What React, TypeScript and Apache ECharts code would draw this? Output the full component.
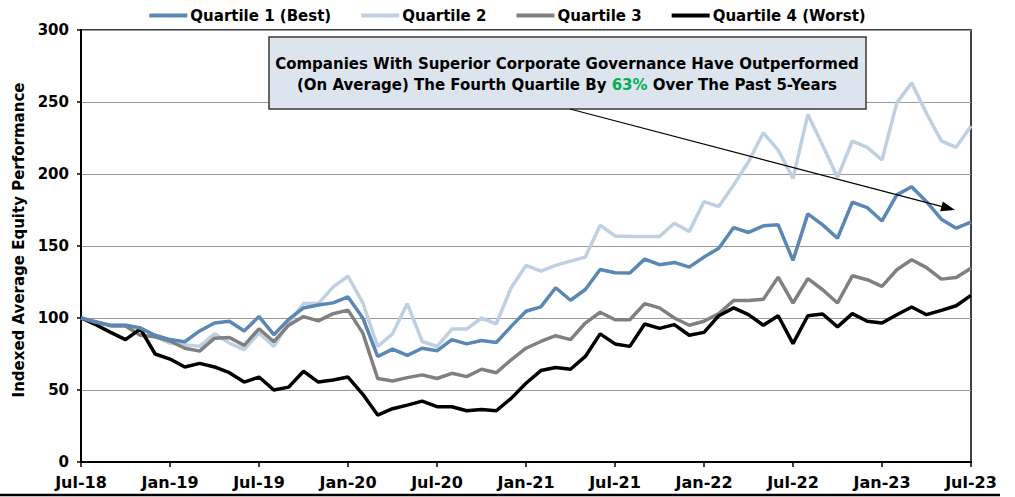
import React, { useEffect, useRef } from "react";
import * as echarts from "echarts";

const months = [
  "Jul-18","Aug-18","Sep-18","Oct-18","Nov-18","Dec-18",
  "Jan-19","Feb-19","Mar-19","Apr-19","May-19","Jun-19",
  "Jul-19","Aug-19","Sep-19","Oct-19","Nov-19","Dec-19",
  "Jan-20","Feb-20","Mar-20","Apr-20","May-20","Jun-20",
  "Jul-20","Aug-20","Sep-20","Oct-20","Nov-20","Dec-20",
  "Jan-21","Feb-21","Mar-21","Apr-21","May-21","Jun-21",
  "Jul-21","Aug-21","Sep-21","Oct-21","Nov-21","Dec-21",
  "Jan-22","Feb-22","Mar-22","Apr-22","May-22","Jun-22",
  "Jul-22","Aug-22","Sep-22","Oct-22","Nov-22","Dec-22",
  "Jan-23","Feb-23","Mar-23","Apr-23","May-23","Jun-23",
  "Jul-23",
];

const quartile1 = [
  100, 97, 95, 95, 93, 88, 85, 83.5, 91, 96.5, 97.7, 91,
  101, 88.4, 99, 107, 109, 110.5, 114.6, 100, 73.3, 78.4, 74, 79,
  77.2, 85, 82, 84.4, 83, 94.2, 104.7, 107.7, 121, 112.3, 119.8, 133.7,
  131.4, 131.2, 140.9, 137, 138.6, 135.3, 142.3, 148.5, 162.8, 159.4, 164, 164.7,
  140, 172.3, 164.7, 155.4, 180.4, 176.7, 167.4, 185.5, 191.2, 180.8, 168.6, 162.4,
  166.5,
];

const quartile2 = [
  100, 97, 95, 95, 93, 87, 82.6, 81.5, 80.3, 89, 82.6, 78,
  89.6, 80.3, 96.5, 110, 110, 121.6, 129, 110.5, 80.2, 89, 110, 83.7,
  80.2, 92.3, 92.3, 100, 96, 121, 136.5, 132.6, 136.5, 139.5, 142.3, 164.4,
  157, 156.6, 156.6, 156.6, 165.8, 160, 180.8, 177.4, 192.4, 208.5, 228.6, 216.6,
  197, 241.3, 220, 197.7, 222.9, 218.5, 209.7, 249.4, 263.3, 242, 223, 218.5,
  233.3,
];

const quartile3 = [
  100, 97.5, 94.5, 94.5, 88, 87, 84, 79, 77, 86, 86.5, 81,
  92.5, 83.5, 95, 101, 98, 103, 105.5, 89.5, 58, 56.3, 58.6, 60.5,
  58, 61.6, 59.3, 64.4, 62, 71, 79, 83.7, 87.7, 85, 96.5, 104,
  98.8, 98.8, 110, 107, 100, 95, 97.7, 103, 112.2, 112.2, 113, 128.4,
  110.4, 127.3, 119.6, 110.4, 129.3, 126.6, 122, 133.5, 140.4, 135, 127, 128.2,
  134.6,
];

const quartile4 = [
  100, 95.3, 90, 85, 92.5, 75, 71.5, 66, 68.5, 66, 62, 55.5,
  59, 50, 52, 63, 55.5, 57, 59, 47, 32.6, 37, 39.5, 42.3,
  38.4, 38.4, 35.6, 36.5, 35.6, 44.2, 54.7, 63.5, 65.6, 64.4, 73.3, 89,
  82, 80.3, 95.8, 92.8, 95.4, 88, 90, 101.6, 107, 102.3, 95, 101.6,
  82.2, 101.6, 102.8, 93.8, 103, 97.7, 96.5, 102.3, 107.6, 102.3, 105.3, 108.5,
  115.7,
];

const seriesNames = ["Quartile 1 (Best)", "Quartile 2", "Quartile 3", "Quartile 4 (Worst)"];
const seriesColors = ["#5b87b4", "#bfd0e2", "#808080", "#000000"];
const seriesData = [quartile1, quartile2, quartile3, quartile4];

const FONT = "'DejaVu Sans', Verdana, sans-serif";

export default function App() {
  const ref = useRef<HTMLDivElement>(null);

  useEffect(() => {
    document.body.style.margin = "0";
    if (!ref.current) return;
    const chart = echarts.init(ref.current, null, { renderer: "svg" });
    chart.setOption({
      animation: false,
      backgroundColor: "#ffffff",
      legend: {
        top: 3,
        left: "center",
        icon: "rect",
        itemWidth: 38,
        itemHeight: 4,
        itemGap: 30,
        data: seriesNames,
        textStyle: {
          fontFamily: FONT,
          fontWeight: "bold",
          fontSize: 15,
          color: "#000",
          padding: [0, 0, 0, -2],
        },
      },
      grid: {
        left: 81,
        right: 44,
        top: 30,
        bottom: 35,
        show: true,
        borderColor: "#000",
        borderWidth: 1.5,
      },
      xAxis: {
        type: "category",
        data: months,
        boundaryGap: false,
        axisLine: { lineStyle: { color: "#000", width: 2 } },
        axisTick: { show: true, interval: 5, length: 5, lineStyle: { color: "#000", width: 1.5 } },
        axisLabel: {
          interval: 5,
          color: "#000",
          fontFamily: FONT,
          fontWeight: "bold",
          fontSize: 16,
          margin: 12,
        },
        splitLine: { show: false },
      },
      yAxis: {
        type: "value",
        min: 0,
        max: 300,
        interval: 50,
        name: "Indexed Average Equity Performance",
        nameLocation: "middle",
        nameGap: 51,
        nameTextStyle: {
          fontFamily: FONT,
          fontWeight: "bold",
          fontSize: 15,
          color: "#000",
          padding: [0, 0, 0, 12],
        },
        axisLine: { show: true, lineStyle: { color: "#000", width: 2 } },
        axisTick: { show: true, length: 4, lineStyle: { color: "#000", width: 1.5 } },
        axisLabel: {
          color: "#000",
          fontFamily: FONT,
          fontWeight: "bold",
          fontSize: 15,
          margin: 12,
        },
        splitLine: { show: true, lineStyle: { color: "#999", width: 1.2 } },
      },
      series: seriesNames.map((name, i) => ({
        name,
        type: "line",
        data: seriesData[i],
        showSymbol: false,
        symbol: "none",
        color: seriesColors[i],
        lineStyle: { color: seriesColors[i], width: 3.5 },
        z: 2 + (i === 0 ? 2 : 0),
      })),
      graphic: [
        {
          type: "rect",
          shape: { x: 269, y: 37, width: 597, height: 72 },
          style: { fill: "#dce4ee", stroke: "#3a3a3a", lineWidth: 1.5 },
          z: 100,
        },
        {
          type: "text",
          x: 567,
          y: 74,
          z: 101,
          style: {
            text: "Companies With Superior Corporate Governance Have Outperformed\n(On Average) The Fourth Quartile By {g|63%} Over The Past 5-Years",
            align: "center",
            verticalAlign: "middle",
            fill: "#000",
            fontFamily: FONT,
            fontWeight: "bold",
            fontSize: 15,
            lineHeight: 21,
            rich: {
              g: {
                fill: "#00b050",
                fontFamily: FONT,
                fontWeight: "bold",
                fontSize: 15,
                lineHeight: 21,
              },
            },
          },
        },
        {
          type: "line",
          shape: { x1: 570, y1: 109, x2: 945, y2: 207.4 },
          style: { stroke: "#000", lineWidth: 1.2 },
          z: 100,
        },
        {
          type: "polygon",
          shape: { points: [[955, 210], [940.2, 211.2], [942.8, 201.6]] },
          style: { fill: "#000" },
          z: 100,
        },
        {
          type: "line",
          shape: { x1: 0, y1: 495, x2: 1000, y2: 495 },
          style: { stroke: "#000", lineWidth: 2.5 },
        },
      ],
    });
    return () => chart.dispose();
  }, []);

  return (
    <div
      ref={ref}
      style={{ position: "absolute", left: 0, top: 0, width: 1015, height: 497 }}
    />
  );
}
